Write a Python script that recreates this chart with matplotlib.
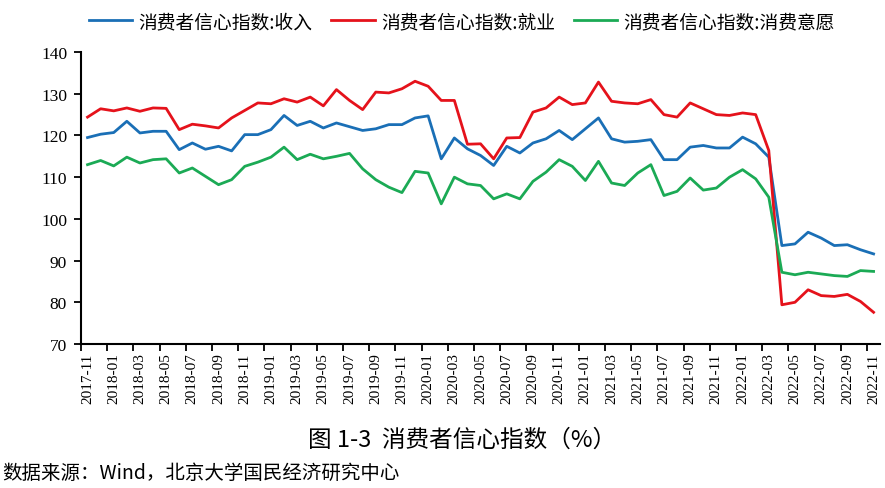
import numpy as np
import pandas as pd
import matplotlib
matplotlib.use("Agg")
import matplotlib.pyplot as plt
from matplotlib.ticker import FixedLocator

plt.rcParams["font.family"] = ["Noto Sans CJK SC", "DejaVu Sans"]

# monthly, 2017-11 .. 2022-11
months = pd.period_range("2017-11", "2022-11", freq="M").strftime("%Y-%m").tolist()

income = [
    119.5, 120.3, 120.7, 123.4, 120.6, 121.0, 121.0, 116.6, 118.2, 116.7, 117.4, 116.3, 120.2, 120.2, 121.4,
    124.8, 122.4, 123.4, 121.8, 123.0, 122.1, 121.2, 121.6, 122.6, 122.6, 124.2, 124.7, 114.4, 119.4, 116.8,
    115.2, 112.8, 117.4, 115.8, 118.2, 119.2, 121.2, 119.0, 121.6, 124.2, 119.2, 118.4, 118.6, 119.0, 114.2,
    114.2, 117.2, 117.6, 117.0, 117.0, 119.6, 118.0, 114.8, 93.6, 94.0, 96.8, 95.4, 93.6, 93.8, 92.6, 91.6,
]
employment = [
    124.4, 126.4, 125.9, 126.6, 125.8, 126.6, 126.5, 121.4, 122.7, 122.3, 121.8, 124.2, 126.0, 127.8, 127.6,
    128.8, 128.0, 129.2, 127.1, 131.0, 128.4, 126.2, 130.4, 130.2, 131.2, 133.0, 131.8, 128.4, 128.4, 117.9,
    118.0, 114.4, 119.4, 119.5, 125.6, 126.6, 129.2, 127.4, 127.8, 132.8, 128.2, 127.8, 127.6, 128.6, 125.0,
    124.4, 127.8, 126.4, 125.0, 124.8, 125.4, 125.0, 116.4, 79.4, 80.0, 83.0, 81.6, 81.4, 81.9, 80.2, 77.6,
]
willingness = [
    113.0, 114.0, 112.7, 114.8, 113.4, 114.2, 114.4, 111.0, 112.2, 110.2, 108.2, 109.4, 112.6, 113.6, 114.8,
    117.2, 114.2, 115.5, 114.4, 115.0, 115.7, 112.0, 109.4, 107.6, 106.3, 111.4, 111.0, 103.6, 110.0, 108.4,
    108.0, 104.8, 106.0, 104.8, 109.0, 111.2, 114.2, 112.6, 109.2, 113.8, 108.6, 108.0, 111.0, 113.0, 105.6,
    106.6, 109.8, 106.9, 107.4, 110.0, 111.8, 109.6, 105.2, 87.2, 86.6, 87.2, 86.8, 86.4, 86.2, 87.6, 87.4,
]

series = [
    ("消费者信心指数:收入", income, "#1a6fb6"),
    ("消费者信心指数:就业", employment, "#e5121b"),
    ("消费者信心指数:消费意愿", willingness, "#1baa55"),
]

fig = plt.figure(figsize=(8.85, 4.89), dpi=100)
ax = fig.add_axes([0.0915, 0.2945, 0.903, 0.597])

x = np.arange(len(months))
for name, vals, color in series:
    ax.plot(x, vals, color=color, lw=2.0, label=name, solid_joinstyle="round")

ax.set_xlim(-0.5, len(months) - 0.5)
ax.set_ylim(70, 140)
ax.set_yticks(range(70, 141, 10))

# excel style category axis: labels at centres, tick marks between categories
ax.xaxis.set_major_locator(FixedLocator(x[::2]))
ax.set_xticklabels(months[::2], rotation=90, family="Liberation Serif", fontsize=11)
ax.xaxis.set_minor_locator(FixedLocator(np.arange(-0.5, len(months), 2)))
ax.tick_params(axis="x", which="major", length=0, pad=6)
ax.tick_params(axis="x", which="minor", length=5, width=1.3, direction="out")
ax.tick_params(axis="y", length=5, width=1.3, direction="out", pad=5)
for lbl in ax.get_yticklabels():
    lbl.set_family("Liberation Serif")
    lbl.set_fontsize(12.5)

for side in ["top", "right"]:
    ax.spines[side].set_visible(False)
for side in ["left", "bottom"]:
    ax.spines[side].set_linewidth(1.5)

fig.legend(loc="upper center", bbox_to_anchor=(0.522, 1.01), ncol=3, frameon=False,
           fontsize=13.5, handlelength=2.3, handletextpad=0.35, columnspacing=1.0)

fig.text(0.522, 0.100, "图 1-3  消费者信心指数（%）", ha="center", va="center", fontsize=17)
fig.text(0.003, 0.031, "数据来源：Wind，北京大学国民经济研究中心", ha="left", va="center", fontsize=14)

fig.savefig("out.png", dpi=100)
